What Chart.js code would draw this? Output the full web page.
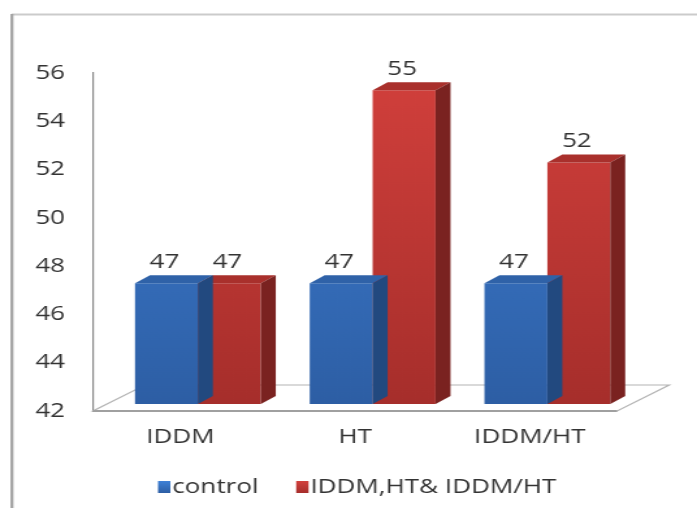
<!DOCTYPE html>
<html>
<head>
<meta charset="utf-8">
<script src="https://cdn.jsdelivr.net/npm/chart.js@4.4.1/dist/chart.umd.min.js"></script>
<style>
  html, body { margin: 0; padding: 0; background: #fff; overflow: hidden; }
  /* the source picture is stretched sideways, so the whole chart is too */
  #wrap { width: 536px; height: 508px; transform: scaleX(1.3004); transform-origin: 0 0; }
</style>
</head>
<body>
<div id="wrap"><canvas id="chart"></canvas></div>
<script>
const categories = ["IDDM", "HT", "IDDM/HT"];
const seriesNames = ["control", "IDDM,HT& IDDM/HT"];
const controlValues = [47, 47, 47];
const groupValues = [47, 55, 52];
const yMin = 42, yMax = 56, yStep = 2;

const FONT = "'Open Sans', sans-serif";
const TEXT = "#333333";
const SHIFT = { x: 13.5, y: -7 };   // bars stand a bit back on the floor
const DEPTH = { x: 11.5, y: -8 };   // bar depth
const FLOOR = { x: 40, y: -26 };    // floor depth

const styles = [
  { top: "#3F81D7", bottom: "#2D5EA4", lid: "#2F62A8", side: "#22497F" },
  { top: "#D2403C", bottom: "#A62E2B", lid: "#A9302C", side: "#7A2220" }
];

function frontFill(i) {
  return function (c) {
    const a = c.chart.chartArea;
    if (!a) return styles[i].top;
    const g = c.chart.ctx.createLinearGradient(0, a.top, 0, a.bottom);
    g.addColorStop(0, styles[i].top);
    g.addColorStop(1, styles[i].bottom);
    return g;
  };
}

const threeD = {
  id: "threeD",
  beforeDraw(chart) {
    const ctx = chart.ctx;
    ctx.save();
    ctx.strokeStyle = "#cbcbcb";
    ctx.lineWidth = 2;
    ctx.beginPath();
    ctx.moveTo(9, 14.5);
    ctx.lineTo(chart.width, 14.5);
    ctx.stroke();
    ctx.strokeStyle = "#a4a4a4";
    ctx.lineWidth = 2.3;
    ctx.beginPath();
    ctx.moveTo(9.2, 14);
    ctx.lineTo(9.2, chart.height);
    ctx.stroke();
    ctx.restore();
  },
  beforeDatasetsDraw(chart) {
    const ctx = chart.ctx, a = chart.chartArea;
    ctx.save();
    ctx.beginPath();
    ctx.moveTo(a.left, a.bottom);
    ctx.lineTo(a.right, a.bottom);
    ctx.lineTo(a.right + FLOOR.x, a.bottom + FLOOR.y);
    ctx.lineTo(a.left + FLOOR.x, a.bottom + FLOOR.y);
    ctx.closePath();
    ctx.fillStyle = "#ffffff";
    ctx.fill();
    ctx.strokeStyle = "#b4b4b4";
    ctx.lineWidth = 1.2;
    ctx.stroke();
    ctx.strokeStyle = "#a0a0a0";
    ctx.lineWidth = 2;
    ctx.beginPath();
    ctx.moveTo(a.left, a.bottom);
    ctx.lineTo(a.right, a.bottom);
    ctx.stroke();
    ctx.restore();
    ctx.save();
    ctx.translate(SHIFT.x, SHIFT.y);
  },
  afterDatasetDraw(chart, args) {
    const ctx = chart.ctx, st = styles[args.index];
    args.meta.data.forEach(function (bar) {
      const p = bar.getProps(["x", "y", "base", "width"], true);
      const l = p.x - p.width / 2, r = p.x + p.width / 2;
      ctx.fillStyle = st.lid;
      ctx.beginPath();
      ctx.moveTo(l, p.y);
      ctx.lineTo(r, p.y);
      ctx.lineTo(r + DEPTH.x, p.y + DEPTH.y);
      ctx.lineTo(l + DEPTH.x, p.y + DEPTH.y);
      ctx.closePath();
      ctx.fill();
      ctx.fillStyle = st.side;
      ctx.beginPath();
      ctx.moveTo(r, p.y);
      ctx.lineTo(r + DEPTH.x, p.y + DEPTH.y);
      ctx.lineTo(r + DEPTH.x, p.base + DEPTH.y);
      ctx.lineTo(r, p.base);
      ctx.closePath();
      ctx.fill();
    });
  },
  afterDatasetsDraw(chart) {
    const ctx = chart.ctx;
    ctx.restore();
    ctx.save();
    ctx.font = "20px " + FONT;
    ctx.fillStyle = TEXT;
    ctx.textAlign = "center";
    ctx.textBaseline = "middle";
    chart.data.datasets.forEach(function (ds, i) {
      chart.getDatasetMeta(i).data.forEach(function (bar, j) {
        ctx.fillText(String(ds.data[j]), bar.x + SHIFT.x - 1.5, bar.y + SHIFT.y - 21);
      });
    });
    ctx.restore();
  },
  afterDraw(chart) {
    const ctx = chart.ctx;
    ctx.save();
    ctx.font = "20px " + FONT;
    ctx.textBaseline = "middle";
    ctx.textAlign = "left";
    let x = 121.5;
    const y = 487;
    chart.data.datasets.forEach(function (ds, i) {
      const g = ctx.createLinearGradient(0, y - 6, 0, y + 6);
      g.addColorStop(0, styles[i].top);
      g.addColorStop(1, styles[i].bottom);
      ctx.fillStyle = g;
      ctx.fillRect(x, y - 6, 9.5, 12);
      ctx.fillStyle = TEXT;
      ctx.fillText(ds.label, x + 11, y);
      x += 11 + ctx.measureText(ds.label).width + 29;
    });
    ctx.restore();
  }
};

new Chart(document.getElementById("chart"), {
  type: "bar",
  data: {
    labels: categories,
    datasets: [
      { label: seriesNames[0], data: controlValues, base: yMin, backgroundColor: frontFill(0), borderWidth: 0, clip: false },
      { label: seriesNames[1], data: groupValues, base: yMin, backgroundColor: frontFill(1), borderWidth: 0, clip: false }
    ]
  },
  options: {
    responsive: true,
    maintainAspectRatio: false,
    animation: false,
    layout: { padding: { left: 0, right: 61.4, top: 73, bottom: 0 } },
    datasets: { bar: { categoryPercentage: 0.72, barPercentage: 1.0 } },
    plugins: { legend: { display: false }, tooltip: { enabled: false } },
    scales: {
      x: {
        grid: { display: false, drawTicks: false },
        border: { display: false },
        ticks: { color: TEXT, font: { family: FONT, size: 20 }, padding: 14 },
        afterFit(scale) { scale.height = 97; }
      },
      y: {
        min: yMin,
        max: yMax,
        grid: { display: false, drawTicks: false },
        border: { display: true, color: "#8a8a8a", width: 1.2 },
        ticks: { stepSize: yStep, color: TEXT, font: { family: FONT, size: 20 }, padding: 21.5 },
        afterFit(scale) { scale.width = 71.5; }
      }
    }
  },
  plugins: [threeD]
});
</script>
</body>
</html>
